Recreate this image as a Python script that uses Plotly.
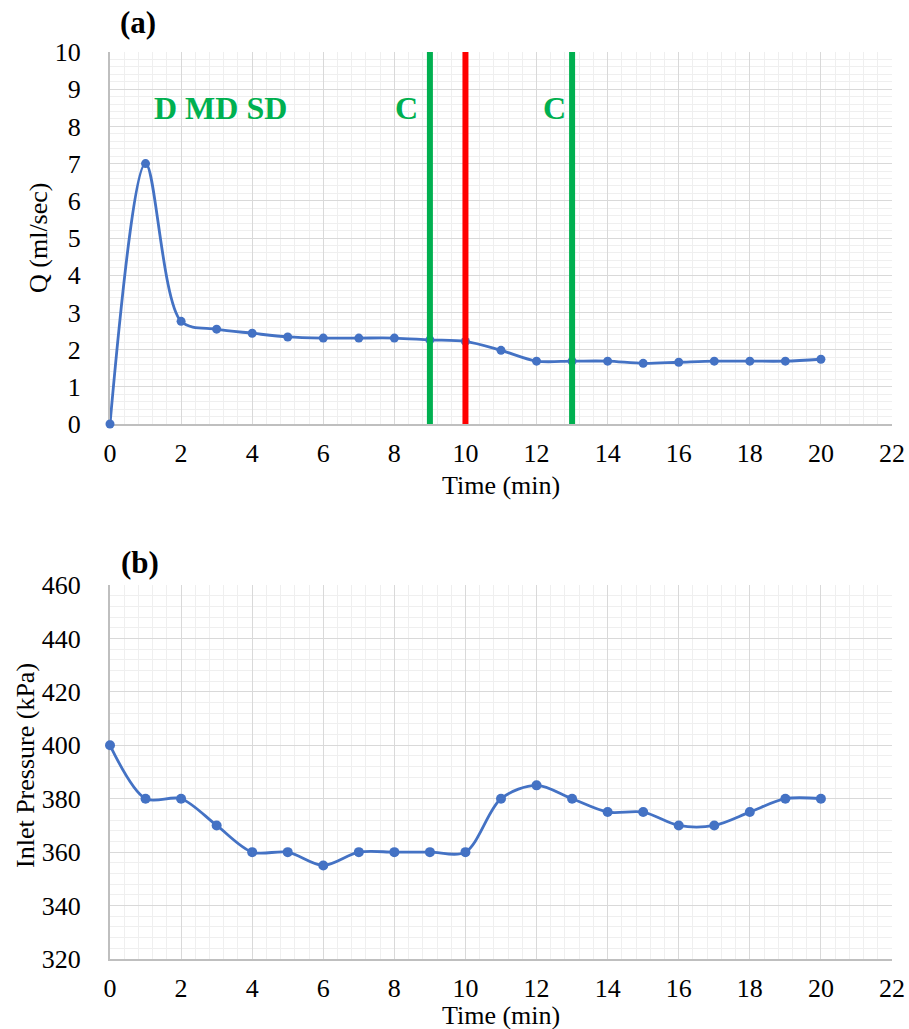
import plotly.graph_objects as go

# Flow rate over time (panel a)
time_min = list(range(0, 21))
flow_q = [0.0, 7.0, 2.76, 2.55, 2.44, 2.34, 2.31, 2.31, 2.31, 2.26, 2.22,
          1.98, 1.69, 1.69, 1.69, 1.63, 1.66, 1.69, 1.69, 1.69, 1.74]

# Inlet pressure over time (panel b)
pressure_kpa = [400, 380, 380, 370, 360, 360, 355, 360, 360, 360, 360,
                380, 385, 380, 375, 375, 370, 370, 375, 380, 380]

# Vertical event markers on panel a
event_times = [9, 10, 13]
event_colors = ["#00B050", "#FF0000", "#00B050"]

# Text labels on panel a: (text, x, y)
stage_labels = [("D MD SD", 3.1, 8.5), ("C", 8.35, 8.5), ("C", 12.5, 8.5)]

x_ticks = list(range(0, 23, 2))

W, H = 909, 1029
PX_L, PX_R = 110, 892
A_TOP, A_BOT = 52, 424
B_TOP, B_BOT = 585, 959

def fx(px):
    return px / W

def fy(py):
    return 1 - py / H

LINE_BLUE = "#4472C4"
FONT = "Liberation Serif"
TICK_SIZE = 26

fig = go.Figure()

fig.add_trace(go.Scatter(
    x=time_min, y=flow_q, mode="lines+markers",
    line=dict(color=LINE_BLUE, width=2.8, shape="spline", smoothing=0.9),
    marker=dict(color=LINE_BLUE, size=9),
    cliponaxis=False, xaxis="x", yaxis="y", showlegend=False,
))

fig.add_trace(go.Scatter(
    x=time_min, y=pressure_kpa, mode="lines+markers",
    line=dict(color=LINE_BLUE, width=2.8, shape="spline", smoothing=0.9),
    marker=dict(color=LINE_BLUE, size=10),
    cliponaxis=False, xaxis="x2", yaxis="y2", showlegend=False,
))

grid_major = "#d9d9d9"
grid_minor = "#efefef"
axis_line = "#bfbfbf"
tick_font = dict(family=FONT, size=TICK_SIZE, color="black")

common_x = dict(
    range=[0, 22], tickvals=x_ticks, showgrid=True, gridcolor=grid_major,
    gridwidth=1.3, zeroline=False, showline=True, linecolor=axis_line,
    linewidth=2, ticks="", ticklabelstandoff=5, automargin=False,
    layer="below traces", tickfont=tick_font,
    minor=dict(dtick=0.4, tick0=0, showgrid=True, gridcolor=grid_minor,
               gridwidth=1.3),
)

common_y = dict(
    showgrid=True, gridcolor=grid_major, gridwidth=1.3, zeroline=False,
    showline=True, linecolor=axis_line, linewidth=2, ticks="",
    ticklabelstandoff=22, automargin=False, layer="below traces",
    tickfont=tick_font,
)

fig.update_layout(
    width=W, height=H,
    margin=dict(l=0, r=0, t=0, b=0, autoexpand=False),
    font=dict(family=FONT, color="black"),
    paper_bgcolor="white", plot_bgcolor="white",
    xaxis=dict(domain=[fx(PX_L), fx(PX_R)], anchor="y", **common_x),
    yaxis=dict(
        domain=[fy(A_BOT), fy(A_TOP)], anchor="x", range=[0, 10], dtick=1,
        minor=dict(dtick=0.2, tick0=0, showgrid=True, gridcolor=grid_minor,
                   gridwidth=1.3),
        **common_y,
    ),
    xaxis2=dict(domain=[fx(PX_L), fx(PX_R)], anchor="y2", **common_x),
    yaxis2=dict(
        domain=[fy(B_BOT), fy(B_TOP)], anchor="x2", range=[320, 460], dtick=20,
        minor=dict(dtick=4, tick0=320, showgrid=True, gridcolor=grid_minor,
                   gridwidth=1.3),
        **common_y,
    ),
)

# Event lines drawn in data coordinates of panel a
for t, c in zip(event_times, event_colors):
    fig.add_shape(type="line", xref="x", yref="y", x0=t, x1=t, y0=0, y1=10,
                  line=dict(color=c, width=6), layer="above")

annotations = []
for text, xv, yv in stage_labels:
    annotations.append(dict(
        x=xv, y=yv, xref="x", yref="y", text=text, showarrow=False,
        xanchor="center", yanchor="middle",
        font=dict(family=FONT, size=32, color="#00B050", weight="bold"),
    ))

title_font = dict(family=FONT, size=26, color="black")

def paper_text(px, py, text, font, angle=0):
    return dict(x=fx(px), y=fy(py), xref="paper", yref="paper", text=text,
                showarrow=False, xanchor="center", yanchor="middle",
                textangle=angle, font=font)

label_font = dict(family=FONT, size=31, color="black")
annotations += [
    paper_text(138, 22, "<b>(a)</b>", label_font),
    paper_text(140, 562, "<b>(b)</b>", label_font),
    paper_text((PX_L + PX_R) / 2, 486, "Time (min)", title_font),
    paper_text((PX_L + PX_R) / 2, 1015, "Time (min)", title_font),
    paper_text(38, (A_TOP + A_BOT) / 2, "Q (ml/sec)", title_font, -90),
    paper_text(25, 766, "Inlet Pressure (kPa)", title_font, -90),
]
fig.update_layout(annotations=annotations)

fig.write_html("out.html")
